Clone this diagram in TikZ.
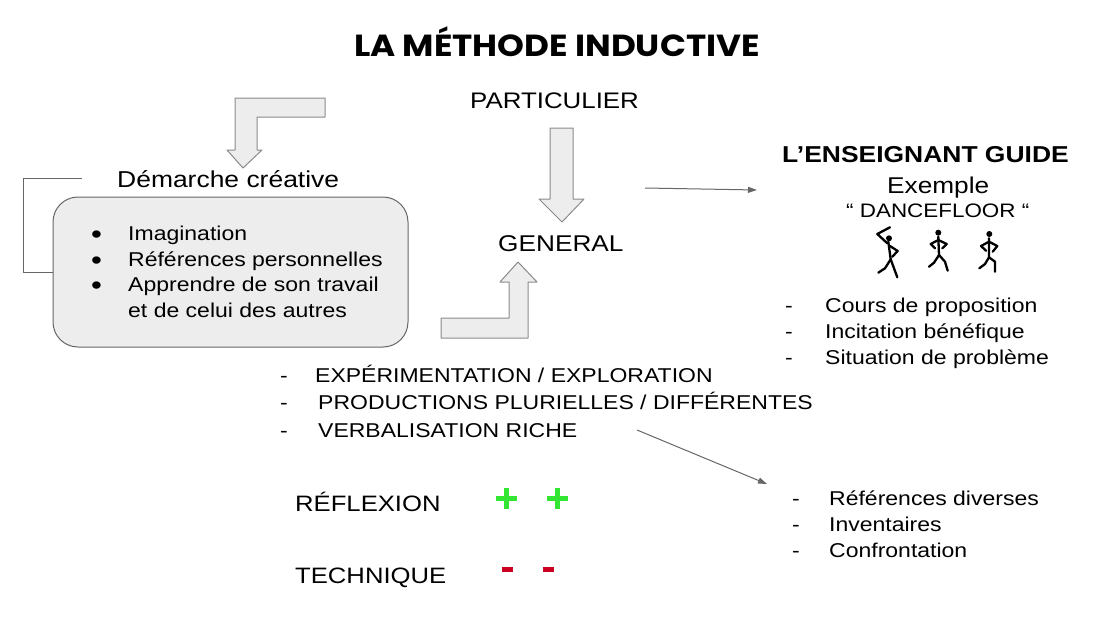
\documentclass[tikz,border=0pt]{standalone}
\usepackage{fontspec}
\setmainfont{Liberation Sans}[FakeStretch=1.15]
\newfontfamily\titlefont{Poppins}[FakeStretch=1.12]
\usetikzlibrary{arrows.meta}
\tikzset {>={Triangle[length=9pt,width=6pt]}}
\definecolor{edgegray}{HTML}{8A8A8A}
\definecolor{linegray}{HTML}{666666}
\definecolor{boxfill}{HTML}{EDEDED}
\definecolor{plusgreen}{HTML}{33E633}
\definecolor{minusred}{HTML}{CC0022}
\newcommand\bul{\makebox[37pt][l]{\raisebox{-3.2pt}{\scalebox{1.35}{\textbullet}}}}
\newcommand\dsh[1][40pt]{\makebox[#1][l]{-}}
\tikzset{
  big/.style={anchor=base west,inner sep=0pt,font=\fontsize{23}{27}\selectfont},
  small/.style={anchor=base west,inner sep=0pt,font=\fontsize{20}{24}\selectfont},
  blockarrow/.style={draw=edgegray,fill=boxfill,line width=1pt,line join=round},
  thinarrow/.style={->,draw=linegray,line width=1pt},
  dancer/.style={line width=2.3pt,line cap=round,line join=round}}

\begin{document}
\begin{tikzpicture}[x=1pt,y=-1pt]
\useasboundingbox (0,0) rectangle (1109,621);
\node[anchor=base,inner sep=0pt,
  font=\titlefont\bfseries\fontsize{30.5}{36}\selectfont] (title) at (557,56)
  {LA MÉTHODE INDUCTIVE};
% left part
\draw[blockarrow] (325,98) -- (235,98) -- (235,150) -- (227,150)
  -- (243,168) -- (262,150) -- (257,150) -- (257,117) -- (325,117) -- cycle;
\node[big] (dem) at (117,187) {Démarche créative};
\node[draw=linegray,fill=boxfill,line width=1pt,rounded corners=25pt,
  minimum width=355pt,minimum height=150pt] (box) at (230.5,272) {};
\coordinate (brk) at (82,178);
\draw[draw=linegray,line width=1pt] (box.west) -| (23,178) -- (brk);
\node[small] (i1) at (91,240) {\bul Imagination};
\node[small] (i2) at (91,266) {\bul Références personnelles};
\node[small] (i3) at (91,291) {\bul Apprendre de son travail};
\node[small] (i4) at (128,317) {et de celui des autres};
% centre
\node[big,font=\fontsize{22.5}{27}\selectfont] (part) at (470,108) {PARTICULIER};
\draw[blockarrow] (550,128) -- (573,128) -- (573,199) -- (584,199)
  -- (562,222) -- (539,199) -- (550,199) -- cycle;
\node[big,font=\fontsize{22.8}{27}\selectfont] (gen) at (498,251) {GENERAL};
\draw[blockarrow] (441,318) -- (509,318) -- (509,282) -- (500,282)
  -- (518,262) -- (537,282) -- (528,282) -- (528,338) -- (441,338) -- cycle;
\node[small] (m1) at (280,382) {\dsh[35pt]EXPÉRIMENTATION / EXPLORATION};
\node[small] (m2) at (280,409) {\dsh[38pt]PRODUCTIONS PLURIELLES / DIFFÉRENTES};
\node[small] (m3) at (280,437) {\dsh[38pt]VERBALISATION RICHE};
\node[big,font=\fontsize{22.3}{27}\selectfont] (refl) at (295,511) {RÉFLEXION};
\node[big,font=\fontsize{22.3}{27}\selectfont] (tech) at (295,583) {TECHNIQUE};
\draw[plusgreen,line width=5pt] (496,498) -- ++(21,0) (506.5,487.5) -- ++(0,21);
\draw[plusgreen,line width=5pt] (547,498) -- ++(21,0) (557.5,487.5) -- ++(0,21);
\draw[minusred,line width=5pt] (501.5,569) -- ++(11,0);
\draw[minusred,line width=5pt] (542.5,569) -- ++(11,0);
% right part
\coordinate (a1s) at (645,188);
\coordinate (a1e) at (757,190);
\draw[thinarrow] (a1s) -- (a1e);
\coordinate (a2s) at (637,430);
\coordinate (a2e) at (767,484);
\draw[thinarrow] (a2s) -- (a2e);
\node[big,font=\bfseries\fontsize{23}{27}\selectfont] (guide) at (782,162)
  {L’ENSEIGNANT GUIDE};
\node[big,font=\fontsize{22.8}{27}\selectfont] (ex) at (887,193) {Exemple};
\node[big,font=\fontsize{19.5}{24}\selectfont] (dance) at (846,217)
  {“ DANCEFLOOR “};
% dancers
\fill (889,238.3) circle (3);
\draw[dancer] (890,227.3) -- (877.3,234) -- (887.3,243.3);
\draw[dancer] (888.3,241.7) -- (890.7,259.3) -- (897.3,277.3);
\draw[dancer] (890.7,259.3) -- (885,268.3) -- (878.3,272.7);
\draw[dancer] (890,246) -- (897.7,251) -- (892.3,256.7);
\fill (938.3,232.7) circle (3);
\draw[dancer] (938.3,236.7) -- (939,255) -- (934,262.7) -- (929,266.7);
\draw[dancer] (939,255) -- (945,261.7) -- (947.7,270.7);
\draw[dancer] (935,248.3) -- (930.7,244) -- (938.3,240) -- (946.7,244) -- (942.3,248.3);
\fill (989.3,234) circle (3);
\draw[dancer] (989,238.3) -- (989,257.3) -- (985,264) -- (979.3,268.3);
\draw[dancer] (989,257.3) -- (995,261.7) -- (995,271.7);
\draw[dancer] (986,250.7) -- (981,246) -- (989,241.7) -- (997.3,246) -- (992.7,251.7);
\node[small] (r1) at (785,312) {\dsh Cours de proposition};
\node[small] (r2) at (785,338) {\dsh Incitation bénéfique};
\node[small] (r3) at (785,364) {\dsh Situation de problème};
\node[small] (b1) at (792,505) {\dsh[37pt]Références diverses};
\node[small] (b2) at (792,531) {\dsh[37pt]Inventaires};
\node[small] (b3) at (792,557) {\dsh[37pt]Confrontation};
\end{tikzpicture}
\end{document}
